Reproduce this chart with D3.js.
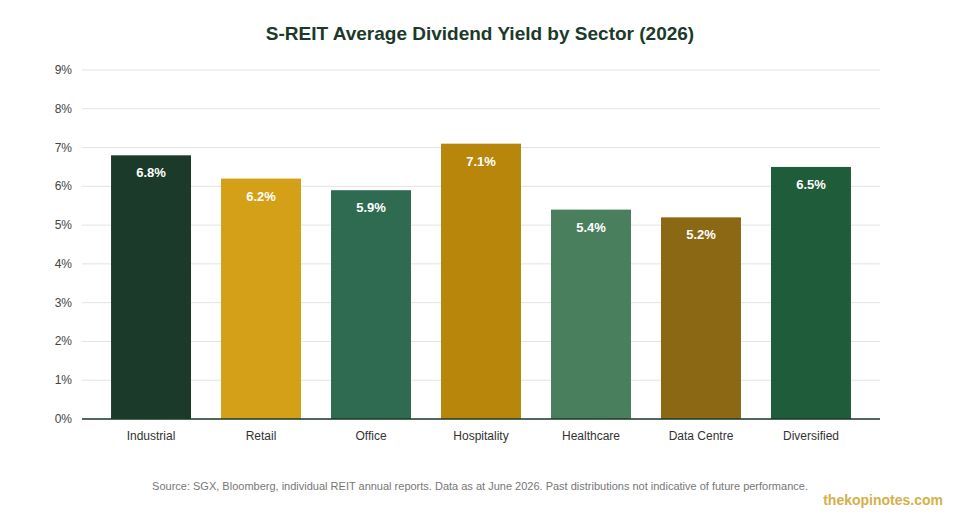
<!DOCTYPE html><html><head><meta charset="utf-8">
<script src="https://cdn.jsdelivr.net/npm/d3@7"></script>
<style>body{margin:0;background:#fff;font-family:Arial,"Liberation Sans",sans-serif}</style></head>
<body><svg id="c" width="960" height="520"></svg>
<script>
const categories=["Industrial","Retail","Office","Hospitality","Healthcare","Data Centre","Diversified"];
const yields=[6.8,6.2,5.9,7.1,5.4,5.2,6.5];
const colors=["#1b3a2a","#d4a017","#2e6b50","#b8860b","#4a7f5e","#8b6914","#1f5c3a"];
const yTicks=[0,1,2,3,4,5,6,7,8,9];
const svg=d3.select("#c");
const L=82,R=880,T=70,B=419;
const x=d3.scaleBand().domain(categories).range([L,R]).paddingInner(0.273).paddingOuter(0.264);
const y=d3.scaleLinear().domain([0,9]).range([B,T]);
svg.append("text").attr("x",480).attr("y",40).attr("text-anchor","middle").attr("font-size",19).attr("font-weight","bold").attr("fill","#1b3a2a").text("S-REIT Average Dividend Yield by Sector (2026)");
const g=svg.append("g");
g.selectAll("line.grid").data(yTicks).join("line").attr("x1",L).attr("x2",R).attr("y1",d=>y(d)).attr("y2",d=>y(d)).attr("stroke","#e3e3e3");
g.selectAll("text.yt").data(yTicks).join("text").attr("x",72).attr("y",d=>y(d)+4).attr("text-anchor","end").attr("font-size",12).attr("fill","#444").text(d=>d+"%");
g.selectAll("rect").data(yields).join("rect").attr("x",(d,i)=>x(categories[i])).attr("width",x.bandwidth()).attr("y",d=>y(d)).attr("height",d=>B-y(d)).attr("fill",(d,i)=>colors[i]);
g.selectAll("text.v").data(yields).join("text").attr("x",(d,i)=>x(categories[i])+x.bandwidth()/2).attr("y",d=>y(d)+22).attr("text-anchor","middle").attr("font-size",13).attr("font-weight","bold").attr("fill","#fff").text(d=>d.toFixed(1)+"%");
g.append("line").attr("x1",L).attr("x2",R).attr("y1",B).attr("y2",B).attr("stroke","#1b3a2a").attr("stroke-width",1.5);
g.selectAll("text.xt").data(categories).join("text").attr("x",d=>x(d)+x.bandwidth()/2).attr("y",440).attr("text-anchor","middle").attr("font-size",12).attr("fill","#333").text(d=>d);
svg.append("text").attr("x",480).attr("y",490).attr("text-anchor","middle").attr("font-size",11).attr("fill","#777").text("Source: SGX, Bloomberg, individual REIT annual reports. Data as at June 2026. Past distributions not indicative of future performance.");
svg.append("text").attr("x",943).attr("y",505).attr("text-anchor","end").attr("font-size",14).attr("font-weight","bold").attr("fill","#d4b04a").text("thekopinotes.com");
</script></body></html>
